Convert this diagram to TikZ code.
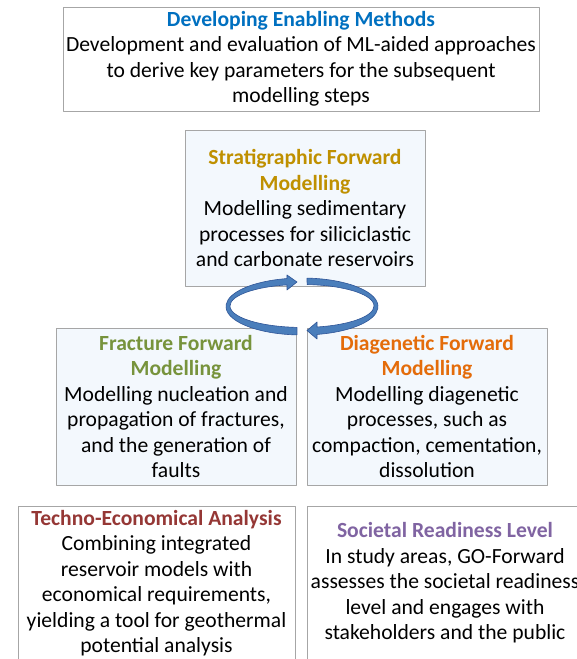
\documentclass[tikz,border=0pt]{standalone}
\usepackage{fontspec}
\setmainfont{Carlito}
\definecolor{boxline}{HTML}{A6A6A6}
\definecolor{boxfill}{HTML}{F3F8FD}
\definecolor{methblue}{HTML}{0070C0}
\definecolor{stratgold}{HTML}{BF9000}
\definecolor{fracgreen}{HTML}{77933C}
\definecolor{diagorange}{HTML}{E46C0A}
\definecolor{econred}{HTML}{953735}
\definecolor{socpurple}{HTML}{8064A2}
\definecolor{cyclefill}{HTML}{4A7EBB}
\definecolor{cycleline}{HTML}{2F5597}
\newcommand{\heading}[2]{\textcolor{#1}{\textbf{#2}}}
\begin{document}
\begin{tikzpicture}[x=1pt,y=1pt,line join=round,font=\fontsize{21.6}{25.5}\selectfont,
	box/.style={draw=boxline,line width=.9pt,fill=white,align=center,inner sep=0pt},
	modelbox/.style={box,fill=boxfill},
	cycle/.style={fill=cyclefill,draw=cycleline,line width=.6pt}]
	\clip (0,0) rectangle (577,659);
	% methods box on top
	\node[box,minimum width=476,minimum height=104] (methods) at (301,600)
		{\heading{methblue}{Developing Enabling Methods}\\Development and evaluation of ML-aided approaches\\to derive key parameters for the subsequent\\modelling steps};
	% the three forward models
	\node[modelbox,minimum width=240,minimum height=156] (strat) at (305,451)
		{\heading{stratgold}{Stratigraphic Forward}\\\heading{stratgold}{Modelling}\\Modelling sedimentary\\processes for siliciclastic\\and carbonate reservoirs};
	\node[modelbox,minimum width=240,minimum height=157] (fracture) at (176,252.5)
		{\heading{fracgreen}{Fracture Forward}\\\heading{fracgreen}{Modelling}\\Modelling nucleation and\\propagation of fractures,\\and the generation of\\faults};
	\node[modelbox,minimum width=240,minimum height=157] (diagen) at (427,252.5)
		{\heading{diagorange}{Diagenetic Forward}\\\heading{diagorange}{Modelling}\\Modelling diagenetic\\processes, such as\\compaction, cementation,\\dissolution};
	% analysis boxes at the bottom
	\node[box,minimum width=277,minimum height=154] (techno) at (156.5,76)
		{\heading{econred}{Techno-Economical Analysis}\\Combining integrated\\reservoir models with\\economical requirements,\\yielding a tool for geothermal\\potential analysis};
	\node[box,minimum width=276,minimum height=154] (societal) at (445,76)
		{\heading{socpurple}{Societal Readiness Level}\\In study areas, GO-Forward\\assesses the societal readiness\\level and engages with\\stakeholders and the public};
	% cycle between the models
	\draw[cycle] (302,352.5)++(266.2:76 and 28.5) arc[start angle=266.2,end angle=101.4,x radius=76,y radius=28.5]
		-- (287,384) -- (297,377) -- (287,369) -- (287,374.1)
		arc[start angle=102,end angle=266,x radius=72,y radius=21.5] -- cycle;
	\draw[cycle] (302,352.5)++(86.2:76 and 28.5) arc[start angle=86.2,end angle=-78.6,x radius=76,y radius=28.5]
		-- (317,320) -- (307,328.5) -- (317,337) -- (317,332)
		arc[start angle=-78,end angle=86,x radius=72,y radius=21.5] -- cycle;
\end{tikzpicture}
\end{document}
